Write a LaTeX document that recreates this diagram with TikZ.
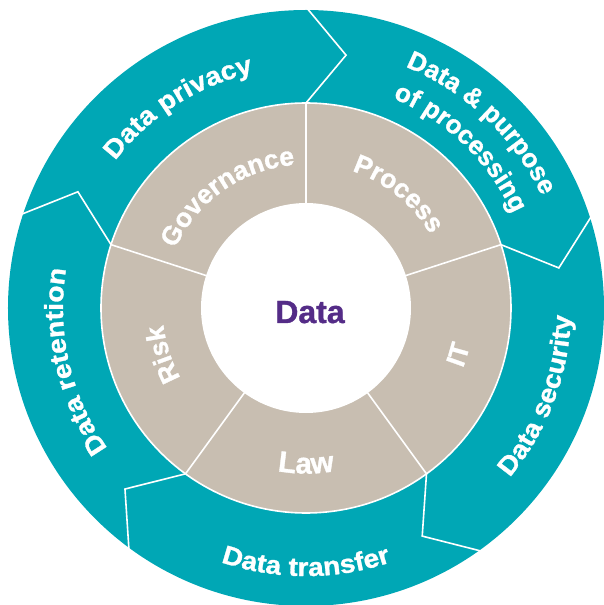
\documentclass[tikz,border=0pt]{standalone}
\usepackage{fontspec}
\setmainfont{Liberation Sans}
\newfontfamily\lblfam[FakeBold=1.1]{Liberation Sans}
\newfontfamily\widefam[FakeBold=1.1,FakeStretch=1.08]{Liberation Sans}
\usetikzlibrary{decorations.text}
\definecolor{tealring}{RGB}{0,167,181}
\definecolor{beigering}{RGB}{200,190,177}
\definecolor{datapurple}{RGB}{84,44,135}
\newcommand\ringfont{\lblfam\bfseries\fontsize{26.5}{26.5}\selectfont}
\newcommand\lawfont{\lblfam\bfseries\fontsize{29.5}{29.5}\selectfont}
\newcommand\outerfont{\widefam\bfseries\fontsize{26}{26}\selectfont}
\newcommand\twolinefont{\lblfam\bfseries\fontsize{26}{26}\selectfont}
\newcommand\cwlabel[4]{%
  \path[decorate,decoration={text along path,text align=center,text color=white,
    text={|#3|#4}}]
    ({#1+70}:#2) arc[start angle={#1+70}, end angle={#1-70}, radius=#2];}
\newcommand\ccwlabel[4]{%
  \path[decorate,decoration={text along path,text align=center,text color=white,
    text={|#3|#4}}]
    ({#1-70}:#2) arc[start angle={#1-70}, end angle={#1+70}, radius=#2];}
\begin{document}
\begin{tikzpicture}[x=1pt,y=1pt,
  sepline/.style={draw=white, line width=1.6pt, line join=miter},
  corelabel/.style={font=\lblfam\bfseries\fontsize{32}{32}\selectfont, text=datapurple, inner sep=0pt}]
\useasboundingbox (-306,-297) rectangle (297,308);
% outer teal ring
\fill[tealring] (0,0) circle[radius=298];
\foreach \a in {90,18,-54,-126,162}
  \draw[sepline] (\a:301) -- ({\a-9}:256) -- (\a:205);
% middle beige ring
\fill[beigering] (0,0) circle[radius=205];
\draw[white, line width=1.6pt] (0,0) circle[radius=205];
\foreach \a in {90,18,-54,-126,162}
  \draw[sepline] (\a:104) -- (\a:205);
% inner white disc
\fill[white] (0,0) circle[radius=105];
\node[corelabel, anchor=base] (core) at (4,-15) {Data};
% middle ring labels
\cwlabel{125}{143.5}{\ringfont}{Governance}
\cwlabel{51}{144.5}{\ringfont}{Process}
\ccwlabel{-17}{168}{\ringfont}{IT}
\ccwlabel{-90}{165.5}{\lawfont}{Law}
\cwlabel{198}{143.5}{\ringfont}{Risk}
% outer ring labels
\cwlabel{122.5}{241}{\outerfont}{Data privacy}
\cwlabel{46.5}{261}{\twolinefont}{Data {\&} purpose}
\cwlabel{46}{227}{\twolinefont}{of processing}
\ccwlabel{-20.7}{265}{\outerfont}{Data security}
\ccwlabel{-90}{268}{\outerfont}{Data transfer}
\cwlabel{193}{243}{\outerfont}{Data retention}
\end{tikzpicture}
\end{document}
